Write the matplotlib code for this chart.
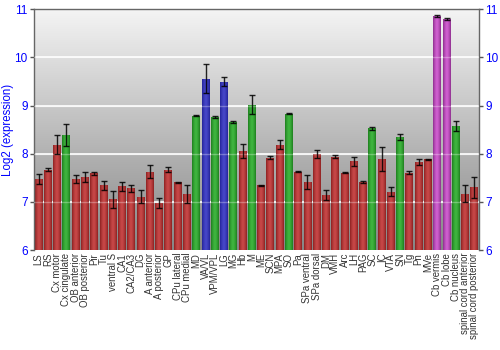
import numpy as np
import matplotlib
matplotlib.use("Agg")
import matplotlib.pyplot as plt
from matplotlib.colors import LinearSegmentedColormap

regions = ["LS", "RS", "Cx motor", "Cx cingulate", "OB anterior", "OB posterior", "Pir", "Tu",
           "ventral S", "CA1", "CA2/CA3", "DG", "A anterior", "A posterior", "GP", "CPu lateral",
           "CPu medial", "MD", "VA/VL", "VPM/VPL", "LG", "MG", "Hb", "M", "ME", "SCN", "MPA", "SO",
           "Pa", "SPa ventral", "SPa dorsal", "DM", "VMH", "Arc", "LH", "PAG", "SC", "IC", "VTA",
           "SN", "Tg", "Pn", "MVe", "Cb vermis", "Cb lobe", "Cb nucleus", "spinal cord anterior",
           "spinal cord posterior"]
values = [7.48, 7.67, 8.19, 8.39, 7.48, 7.52, 7.59, 7.34, 7.05, 7.32, 7.28, 7.11, 7.63, 6.97,
          7.67, 7.41, 7.16, 8.79, 9.56, 8.77, 9.50, 8.66, 8.06, 9.02, 7.34, 7.92, 8.19, 8.83,
          7.63, 7.41, 7.99, 7.14, 7.94, 7.61, 7.84, 7.42, 8.53, 7.89, 7.21, 8.34, 7.61, 7.83,
          7.89, 10.86, 10.80, 8.58, 7.17, 7.30]
errors = [0.10, 0.03, 0.19, 0.23, 0.08, 0.10, 0.04, 0.09, 0.18, 0.09, 0.07, 0.14, 0.14, 0.10,
          0.05, 0.01, 0.18, 0.01, 0.30, 0.02, 0.09, 0.02, 0.15, 0.20, 0.02, 0.03, 0.09, 0.01,
          0.01, 0.14, 0.08, 0.10, 0.03, 0.02, 0.10, 0.02, 0.03, 0.24, 0.09, 0.06, 0.03, 0.06,
          0.01, 0.02, 0.02, 0.10, 0.18, 0.21]
groups = ["r", "r", "r", "g", "r", "r", "r", "r", "r", "r", "r", "r", "r", "r", "r", "r",
          "r", "g", "b", "g", "b", "g", "r", "g", "r", "r", "r", "g", "r", "r", "r", "r",
          "r", "r", "r", "r", "g", "r", "r", "g", "r", "r", "r", "p", "p", "g", "r", "r"]
y_ticks = [6, 7, 8, 9, 10, 11]

palette = {"r": ("#8e2222", "#c84848"), "g": ("#1f7f1f", "#3fb63f"),
           "b": ("#25259a", "#4646c8"), "p": ("#8f2f8f", "#d060d0")}

fig = plt.figure(figsize=(5, 3.5), dpi=100)
ax = fig.add_axes([0.068, 0.2857, 0.89, 0.6877])
x = np.arange(len(regions))
ax.set_xlim(-0.5, len(regions) - 0.5)
ax.set_ylim(6, 11)

# background gradient
bg = LinearSegmentedColormap.from_list("bg", ["#868686", "#f4f4f4"])
grad = np.linspace(0, 1, 256).reshape(-1, 1)
ax.imshow(grad, cmap=bg, aspect="auto", extent=[0, 1, 0, 1], transform=ax.transAxes,
          origin="lower", zorder=0)

for yv in y_ticks[1:-1]:
    ax.axhline(yv, color="white", lw=1.2, zorder=1)

bars = ax.bar(x, [v - 6 for v in values], bottom=6, width=0.86, zorder=2, linewidth=0)
prof = np.abs(np.linspace(-1, 1, 32))
for b, g in zip(bars, groups):
    dark, light = palette[g]
    cm = LinearSegmentedColormap.from_list("c", [light, dark])
    b.set_facecolor(light)
    xx0, yy0 = b.get_x(), b.get_y()
    im = ax.imshow(prof.reshape(1, -1) ** 1.5, cmap=cm, aspect="auto",
                   extent=[xx0, xx0 + b.get_width(), yy0, yy0 + b.get_height()],
                   zorder=2.5, vmin=0, vmax=1)
    im.set_clip_path(b)

ax.errorbar(x, values, yerr=errors, fmt="none", ecolor="black", elinewidth=1,
            capsize=2, capthick=1, alpha=0.85, zorder=4)

for yv in y_ticks[1:-1]:
    ax.axhline(yv, color="white", lw=1.0, alpha=0.3, zorder=3)

ax.set_xlim(-0.5, len(regions) - 0.5)
ax.set_ylim(6, 11)
ax.set_yticks(y_ticks)
ax.set_yticklabels([str(t) for t in y_ticks])
ax.tick_params(axis="y", colors="#555555", labelcolor="#0000ff", labelsize=8.5,
               length=3, width=1, direction="out", right=True, labelright=True, pad=1.5)
for lab in ax.get_yticklabels():
    lab.set_family("Liberation Sans")
ax.set_xticks(x)
ax.set_xticklabels(regions, rotation=90, fontsize=6.9, family="Liberation Sans",
                   color="#333333")
ax.tick_params(axis="x", length=0, pad=2)
ax.set_ylabel("Log2 (expression)", color="#0000ff", fontsize=8.3, family="Liberation Sans",
              labelpad=1)
ax.yaxis.set_label_coords(-0.045, 0.5)
for s in ["left", "right", "top"]:
    ax.spines[s].set_color("#666666")
    ax.spines[s].set_linewidth(1)
ax.spines["bottom"].set_visible(False)

fig.savefig("out.png", dpi=100, facecolor="white")
